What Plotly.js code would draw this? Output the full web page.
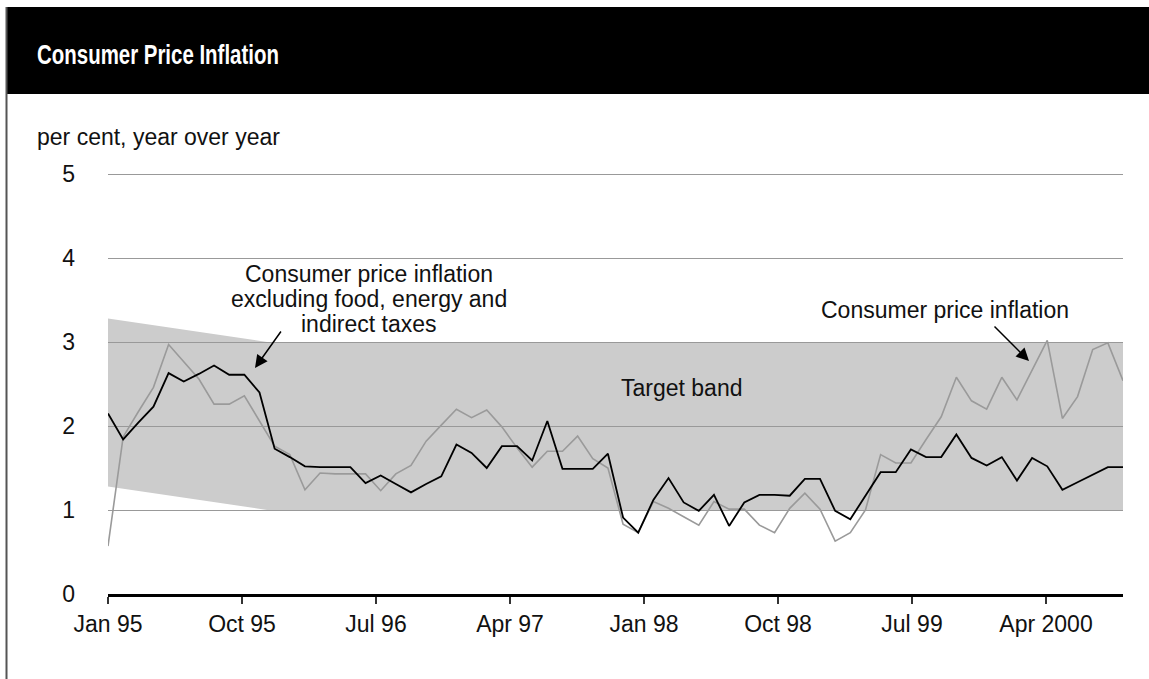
<!DOCTYPE html>
<html>
<head>
<meta charset="utf-8">
<script src="https://cdn.plot.ly/plotly-3.0.1.min.js"></script>
<style>
  html, body { margin: 0; padding: 0; background: #ffffff; }
  #chart { width: 1149px; height: 679px; }
  /* the header title uses a condensed bold face in the original */
  #chart .annotation[data-index="0"] .annotation-text {
    transform-box: fill-box;
    transform-origin: 0 50%;
    transform: scaleX(0.73);
  }
</style>
</head>
<body>
<div id="chart"></div>
<script>
// ---------- DATA ----------
const MONTH_NAMES = ['Jan','Feb','Mar','Apr','May','Jun','Jul','Aug','Sep','Oct','Nov','Dec'];
// monthly categories, Jan 1995 .. Aug 2000
const months = [];
for (let y = 1995; y <= 2000; y++) {
  for (let m = 0; m < 12; m++) {
    if (y === 2000 && m > 7) break;
    months.push(MONTH_NAMES[m] + ' ' + y);
  }
}

// Consumer price inflation (per cent, y/y) - grey line
const cpi = [
  0.57, 1.87, 2.17, 2.46, 2.97, 2.76, 2.56, 2.26, 2.26, 2.36, 2.06, 1.76,
  1.66, 1.24, 1.44, 1.43, 1.43, 1.43, 1.23, 1.43, 1.53, 1.82, 2.01, 2.20,
  2.10, 2.19, 1.99, 1.74, 1.51, 1.70, 1.70, 1.88, 1.61, 1.50, 0.83, 0.73,
  1.10, 1.02, 0.92, 0.82, 1.10, 1.01, 1.01, 0.82, 0.73, 1.02, 1.20, 1.01,
  0.63, 0.73, 1.00, 1.66, 1.56, 1.56, 1.84, 2.11, 2.58, 2.30, 2.20, 2.58,
  2.31, 2.66, 3.02, 2.09, 2.35, 2.91, 2.99, 2.54
];

// CPI excluding food, energy and indirect taxes - black line
const coreCpi = [
  2.15, 1.84, 2.04, 2.23, 2.63, 2.53, 2.62, 2.72, 2.61, 2.61, 2.40, 1.73,
  1.63, 1.52, 1.51, 1.51, 1.51, 1.32, 1.41, 1.31, 1.21, 1.31, 1.40, 1.78,
  1.68, 1.50, 1.76, 1.76, 1.59, 2.06, 1.49, 1.49, 1.49, 1.67, 0.91, 0.73,
  1.12, 1.38, 1.09, 0.99, 1.18, 0.81, 1.09, 1.18, 1.18, 1.17, 1.37, 1.37,
  0.99, 0.89, 1.17, 1.45, 1.45, 1.72, 1.63, 1.63, 1.90, 1.62, 1.53, 1.63,
  1.35, 1.62, 1.52, 1.24, 1.33, 1.42, 1.51, 1.51
];

// Inflation-control target band (month index, lower, upper)
const bandMonth = [0, 10.5, 67];
const bandLow   = [1.28, 1.0, 1.0];
const bandHigh  = [3.28, 3.0, 3.0];

// x-axis tick labels and the months they stand for
const tickLabels = ['Jan 95', 'Oct 95', 'Jul 96', 'Apr 97', 'Jan 98', 'Oct 98', 'Jul 99', 'Apr 2000'];
const tickMonths = [0, 9, 18, 27, 36, 45, 54, 63];

const yTicks = [0, 1, 2, 3, 4, 5];

// ---------- LAYOUT HELPERS ----------
const W = 1149, H = 679;
const Y_TOP = 5.024;                       // a hair above 5 so the top gridline is drawn
const M = { l: 108, r: 26, t: 172, b: 85 };
const PW = W - M.l - M.r, PH = H - M.t - M.b;
const px = x => (x - M.l) / PW;           // pixel -> paper x
const py = y => (H - M.b - y) / PH;       // pixel -> paper y
const X_MAX = months.length - 1;
const pxPerMonth = PW / X_MAX;
const dx = x => (x - M.l) / pxPerMonth;   // pixel -> data x
const dy = y => (H - M.b - y) / (PH / Y_TOP); // pixel -> data y
// the original chart spaces its date ticks slightly tighter than its monthly points
const TICK_SCALE = 134 / (9 * pxPerMonth);

const FONT = 'Liberation Sans, Arial, Helvetica, sans-serif';
const xIdx = months.map((_, i) => i);

// band path from band arrays
let bandPath = 'M ' + bandMonth.map((m, i) => m + ',' + bandLow[i]).join(' L ');
for (let i = bandMonth.length - 1; i >= 0; i--) bandPath += ' L ' + bandMonth[i] + ',' + bandHigh[i];
bandPath += ' Z';

const traces = [
  {
    x: xIdx, y: cpi, text: months, type: 'scatter', mode: 'lines',
    name: 'Consumer price inflation',
    line: { color: '#9a9a9a', width: 1.6 },
    hovertemplate: '%{text}: %{y}<extra></extra>'
  },
  {
    x: xIdx, y: coreCpi, text: months, type: 'scatter', mode: 'lines',
    name: 'Consumer price inflation excluding food, energy and indirect taxes',
    line: { color: '#000000', width: 1.8 },
    hovertemplate: '%{text}: %{y}<extra></extra>'
  }
];

const txt = (text, x, y, extra) => Object.assign({
  text, x, y, xref: 'x', yref: 'y', showarrow: false,
  xanchor: 'center', yanchor: 'middle',
  font: { family: FONT, size: 23, color: '#111111' }
}, extra || {});

const layout = {
  width: W, height: H,
  margin: M,
  paper_bgcolor: '#ffffff',
  plot_bgcolor: 'rgba(0,0,0,0)',
  showlegend: false,
  font: { family: FONT, size: 23, color: '#111111' },
  xaxis: {
    range: [0, X_MAX],
    showgrid: false, zeroline: false,
    showline: true, linecolor: '#000000', linewidth: 3,
    ticks: 'outside', ticklen: 7, tickwidth: 1.5, tickcolor: '#333333',
    tickvals: tickMonths.map(m => m * TICK_SCALE),
    ticktext: tickLabels,
    tickfont: { family: FONT, size: 23, color: '#111111' },
    fixedrange: true
  },
  yaxis: {
    range: [0, Y_TOP],
    tickvals: yTicks,
    showgrid: true, gridcolor: '#999999', gridwidth: 1,
    zeroline: false, showline: false, ticks: '',
    ticklabelstandoff: 32,
    tickfont: { family: FONT, size: 23, color: '#111111' },
    fixedrange: true
  },
  shapes: [
    // target band (drawn below gridlines)
    { type: 'path', xref: 'x', yref: 'y', path: bandPath, layer: 'below',
      fillcolor: '#cccccc', line: { width: 0 } },
    // black header bar
    { type: 'rect', xref: 'paper', yref: 'paper',
      x0: px(6), x1: px(W + 5), y0: py(94), y1: py(7),
      fillcolor: '#000000', line: { width: 0 }, layer: 'above' },
    // left frame line
    { type: 'line', xref: 'paper', yref: 'paper',
      x0: px(6.5), x1: px(6.5), y0: py(7), y1: py(H + 5),
      line: { color: '#555555', width: 2 } }
  ],
  annotations: [
    { text: 'Consumer Price Inflation', xref: 'paper', yref: 'paper',
      x: px(35), y: py(55), xanchor: 'left', yanchor: 'middle', showarrow: false,
      font: { family: FONT, size: 28, color: '#ffffff', weight: 'bold' } },
    { text: 'per cent, year over year', xref: 'paper', yref: 'paper',
      x: px(35), y: py(137), xanchor: 'left', yanchor: 'middle', showarrow: false,
      font: { family: FONT, size: 23, color: '#111111' } },
    txt('Consumer price inflation', dx(369), dy(274)),
    txt('excluding food, energy and', dx(369), dy(299)),
    txt('indirect taxes', dx(369), dy(324)),
    txt('Consumer price inflation', dx(945), dy(310)),
    txt('Target band', dx(681), dy(388)),
    { text: '', x: dx(255), y: dy(368), xref: 'x', yref: 'y',
      ax: 27, ay: -38, showarrow: true, arrowhead: 2, arrowsize: 1.7, arrowwidth: 1.5, arrowcolor: '#000000', standoff: 0 },
    { text: '', x: dx(1029), y: dy(361), xref: 'x', yref: 'y',
      ax: -36, ay: -36, showarrow: true, arrowhead: 2, arrowsize: 1.7, arrowwidth: 1.5, arrowcolor: '#000000', standoff: 0 }
  ]
};

Plotly.newPlot('chart', traces, layout, { displayModeBar: false, staticPlot: true });
</script>
</body>
</html>
